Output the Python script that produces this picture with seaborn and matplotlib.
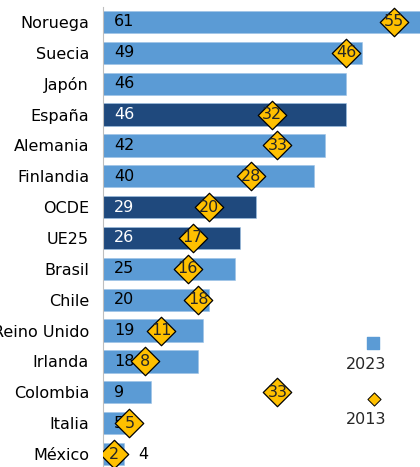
import numpy as np
import pandas as pd
from matplotlib import pyplot as plt
import seaborn as sns


paises = ['Noruega', 'Suecia', 'Japón', 'España', 'Alemania', 'Finlandia', 'OCDE',
          'UE25', 'Brasil', 'Chile', 'Reino Unido', 'Irlanda', 'Colombia', 'Italia',
          'México']
valores_2023 = [61, 49, 46, 46, 42, 40, 29, 26, 25, 20, 19, 18, 9, 5, 4]
valores_2013 = [55, 46, np.nan, 32, 33, 28, 20, 17, 16, 18, 11, 8, 33, 5, 2]
destacados = ['España', 'OCDE', 'UE25']

azul = '#5B9BD5'
azul_oscuro = '#1F497D'
oro = '#FFC000'
fs = 11.5

df = pd.DataFrame({'pais': paises, 'v2023': valores_2023, 'v2013': valores_2013})
colores = {p: (azul_oscuro if p in destacados else azul) for p in paises}

sns.set_style('white')
plt.rcParams['font.family'] = ['DejaVu Sans']

fig = plt.figure(figsize=(4.2, 4.67), dpi=100)
ax = fig.add_axes([103 / 420, -2.5 / 467, 317 / 420, 463 / 467])

sns.barplot(data=df, x='v2023', y='pais', hue='pais', palette=colores,
            order=paises, width=0.72, legend=False, ax=ax, saturation=1,
            edgecolor='#9DC3E6', linewidth=0.4)
sns.scatterplot(data=df, x='v2013', y='pais', marker='D', s=210, color=oro,
                edgecolor='black', linewidth=0.9, zorder=5, ax=ax)

# etiquetas 2023 en la base de la barra
for i, (p, v) in enumerate(zip(paises, valores_2023)):
    col = 'white' if p in destacados else 'black'
    if v < 5:
        ax.text(v + 2.6, i, str(v), ha='left', va='center', fontsize=fs, color='black')
    else:
        ax.text(2.1, i, str(v), ha='left', va='center', fontsize=fs, color=col)

# etiquetas 2013 dentro del rombo
for i, v in enumerate(valores_2013):
    if not np.isnan(v):
        ax.text(v, i, str(int(v)), ha='center', va='center', fontsize=fs,
                color='#262626', zorder=6)

ax.set_xlim(0, 60)
ax.set_ylim(14.5, -0.5)
ax.set_xlabel('')
ax.set_ylabel('')
ax.set_xticks([])
ax.tick_params(axis='y', which='major', length=0, pad=10, labelsize=fs,
               labelcolor='black')
ax.set_yticks(np.arange(-0.5, 15, 1), minor=True)
ax.tick_params(axis='y', which='minor', length=5, color='#BFBFBF', width=1)
for s in ['top', 'right', 'bottom']:
    ax.spines[s].set_visible(False)
ax.spines['left'].set_color('#BFBFBF')

# leyenda
ax.scatter([0.852], [0.274], marker='s', s=75, color=azul, transform=ax.transAxes,
           clip_on=False)
ax.text(0.830, 0.227, '2023', ha='center', va='center', fontsize=fs,
        transform=ax.transAxes)
ax.scatter([0.855], [0.153], marker='D', s=45, color=oro, edgecolor='black',
           linewidth=0.7, transform=ax.transAxes, clip_on=False)
ax.text(0.830, 0.108, '2013', ha='center', va='center', fontsize=fs,
        transform=ax.transAxes)

fig.savefig('out.png', dpi=100)
